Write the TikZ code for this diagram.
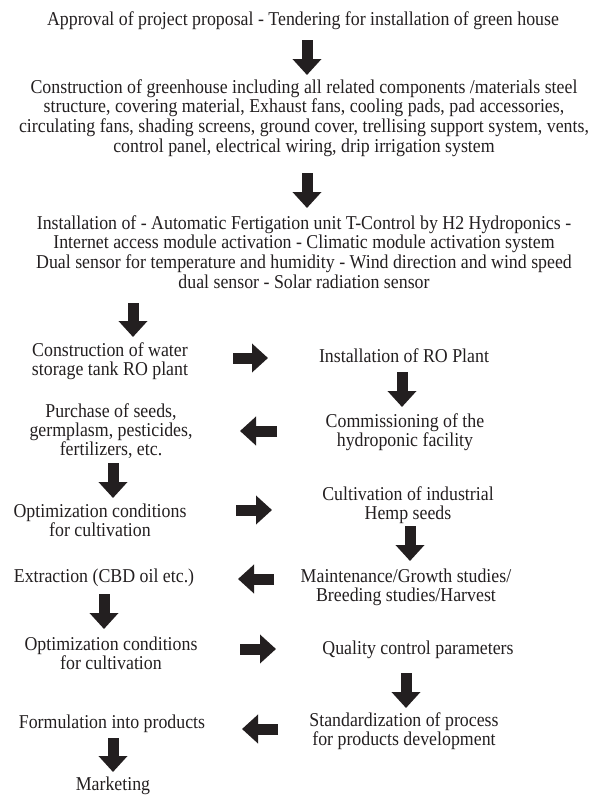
\documentclass[tikz,border=0pt]{standalone}
\usepackage{fontspec}
\setmainfont{Liberation Serif}[FakeStretch=0.91]
\usetikzlibrary{arrows.meta}
\definecolor{ink}{RGB}{35,31,32}
\begin{document}
\begin{tikzpicture}[x=1pt,y=-1pt,
  txt/.style={font=\fontsize{19.6}{18.8}\selectfont, align=center, inner sep=0pt, text=ink},
  bigtxt/.style={txt, font=\fontsize{19.6}{19.7}\selectfont},
  barrow/.style={draw=ink, line width=11pt, -{Triangle[width=28pt,length=16pt]}}]
\useasboundingbox (0,0) rectangle (604,796);
% text nodes
\node[txt] (t1) at (303,21) {Approval of project proposal - Tendering for installation of green house};
\node[bigtxt] (t2) at (304,118) {Construction of greenhouse including all related components /materials steel\\structure, covering material, Exhaust fans, cooling pads, pad accessories,\\circulating fans, shading screens, ground cover, trellising support system, vents,\\control panel, electrical wiring, drip irrigation system};
\node[bigtxt] (t3) at (304,252) {Installation of - Automatic Fertigation unit T-Control by H2 Hydroponics -\\Internet access module activation - Climatic module activation system\\Dual sensor for temperature and humidity - Wind direction and wind speed\\dual sensor - Solar radiation sensor};
\node[txt] (l1) at (110,361) {Construction of water\\storage tank RO plant};
\node[txt] (r1) at (404,356) {Installation of RO Plant};
\node[txt] (r2) at (405,432) {Commissioning of the\\hydroponic facility};
\node[txt] (l2) at (111,431) {Purchase of seeds,\\germplasm, pesticides,\\fertilizers, etc.};
\node[txt] (l3) at (100,520) {Optimization conditions\\for cultivation};
\node[txt] (r3) at (408,505) {Cultivation of industrial\\Hemp seeds};
\node[txt] (r4) at (406,587) {Maintenance/Growth studies/\\Breeding studies/Harvest};
\node[txt] (l4) at (104,578) {Extraction (CBD oil etc.)};
\node[txt] (l5) at (111,653) {Optimization conditions\\for cultivation};
\node[txt] (r5) at (418,650) {Quality control parameters};
\node[txt] (r6) at (404,731) {Standardization of process\\for products development};
\node[txt] (l6) at (112,724) {Formulation into products};
\node[txt] (l7) at (113,786) {Marketing};
% arrow end points
\coordinate (a1s) at (307,40);  \coordinate (a1e) at (307,75);
\coordinate (a2s) at (307,173); \coordinate (a2e) at (307,208);
\coordinate (a3s) at (133,303); \coordinate (a3e) at (133,337);
\coordinate (a4s) at (233,358); \coordinate (a4e) at (268,358);
\coordinate (a5s) at (402,372); \coordinate (a5e) at (402,407);
\coordinate (a6s) at (277,431); \coordinate (a6e) at (240,431);
\coordinate (a7s) at (113,463); \coordinate (a7e) at (113,498);
\coordinate (a8s) at (236,510); \coordinate (a8e) at (272,510);
\coordinate (a9s) at (410,526); \coordinate (a9e) at (410,561);
\coordinate (a10s) at (274,579); \coordinate (a10e) at (238,579);
\coordinate (a11s) at (104,594); \coordinate (a11e) at (104,629);
\coordinate (a12s) at (240,649); \coordinate (a12e) at (276,649);
\coordinate (a13s) at (406,673); \coordinate (a13e) at (406,708);
\coordinate (a14s) at (278,729); \coordinate (a14e) at (242,729);
\coordinate (a15s) at (113,738); \coordinate (a15e) at (113,772);
\foreach \i in {1,...,15} {\draw[barrow] (a\i s) -- (a\i e);}
\end{tikzpicture}
\end{document}
